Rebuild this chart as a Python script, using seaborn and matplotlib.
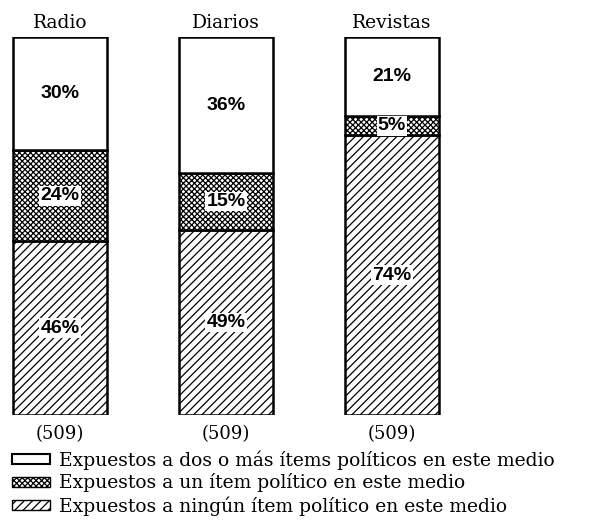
import matplotlib
matplotlib.use("Agg")
import matplotlib.pyplot as plt
from matplotlib.patches import Patch
import numpy as np
import pandas as pd
import seaborn as sns

# datos del grafico
medios = ["Radio", "Diarios", "Revistas"]
ninguno = [46, 49, 74]
uno = [24, 15, 5]
dos_o_mas = [30, 36, 21]
casos = ["(509)", "(509)", "(509)"]
leyenda = ["Expuestos a dos o más ítems políticos en este medio",
           "Expuestos a un ítem político en este medio",
           "Expuestos a ningún ítem político en este medio"]

sns.set_style("white")
plt.rcParams["hatch.linewidth"] = 0.9
plt.rcParams["text.color"] = "black"
plt.rcParams["font.family"] = ["DejaVu Serif", "Liberation Serif"]

fig = plt.figure(figsize=(6, 5.23), dpi=100)
ax = fig.add_axes([0, 1 - 415 / 523, 1, (415 - 37) / 523])

df = pd.DataFrame({"medio": medios, "ninguno": ninguno, "uno": uno, "dos": dos_o_mas})
base2 = df["ninguno"] + df["uno"]

capas = [("ninguno", np.zeros(3), "////"),
         ("uno", df["ninguno"].values, "xxxxxx"),
         ("dos", base2.values, None)]
for col, bottom, hatch in capas:
    n0 = len(ax.patches)
    sns.barplot(data=df, x="medio", y=col, bottom=bottom, color="white",
                width=0.566, edgecolor="black", linewidth=1.8, ax=ax,
                saturation=1)
    for p in ax.patches[n0:]:
        p.set_facecolor("white")
        if hatch:
            p.set_hatch(hatch)

# etiquetas de porcentaje
for i in range(3):
    for val, bot, box in [(ninguno[i], 0, True), (uno[i], ninguno[i], True),
                          (dos_o_mas[i], ninguno[i] + uno[i], False)]:
        kw = dict(facecolor="white", edgecolor="none", pad=1.0) if box else None
        ax.text(i, bot + val / 2, f"{val}%", ha="center", va="center",
                fontsize=14, fontweight="heavy", family="Liberation Sans",
                bbox=kw)
    ax.text(i, 101.2, medios[i], ha="center", va="bottom", fontsize=13.5)
    ax.text(i, -2.6, casos[i], ha="center", va="top", fontsize=13)

ax.set_xlim(-60 / 166, 540 / 166)
ax.set_ylim(0, 100)
ax.axis("off")

handles = [Patch(facecolor="white", edgecolor="black", linewidth=1.5),
           Patch(facecolor="white", edgecolor="black", linewidth=1.0, hatch="xxxxxx"),
           Patch(facecolor="white", edgecolor="black", linewidth=1.0, hatch="////")]
fig.legend(handles, leyenda, loc="upper left", bbox_to_anchor=(12 / 600, 1 - 450 / 523),
           frameon=False, fontsize=13.5, handlelength=2.0, handleheight=0.45,
           handletextpad=0.5, labelspacing=0.2, borderpad=0, borderaxespad=0)

fig.savefig("out.png", dpi=100)
